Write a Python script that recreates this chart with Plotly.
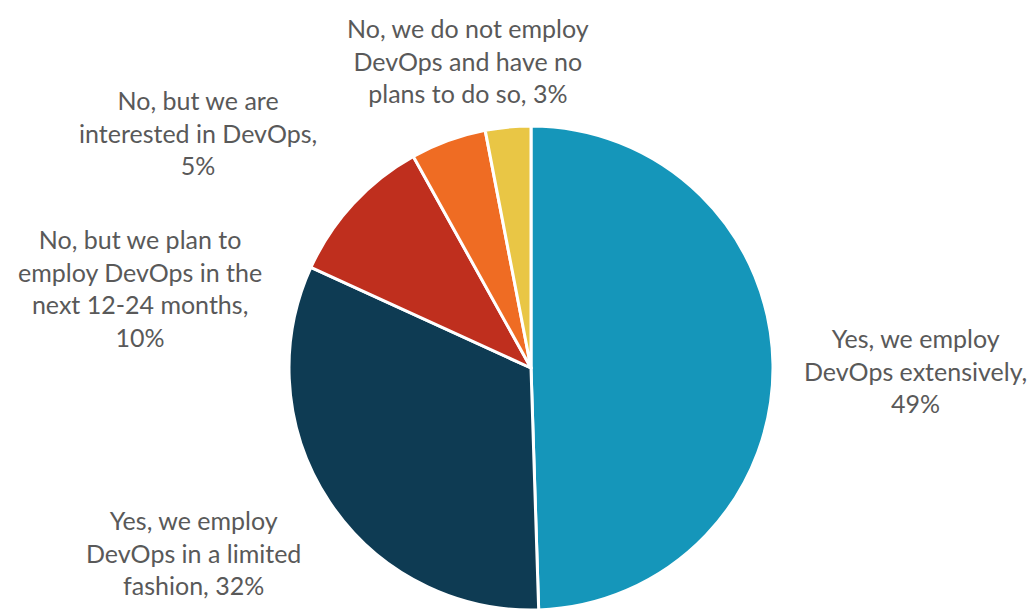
import plotly.graph_objects as go

# Survey responses: does the organisation employ DevOps?
categories = [
    "Yes, we employ DevOps extensively",
    "Yes, we employ DevOps in a limited fashion",
    "No, but we plan to employ DevOps in the next 12-24 months",
    "No, but we are interested in DevOps",
    "No, we do not employ DevOps and have no plans to do so",
]
shares = [49, 32, 10, 5, 3]
colors = ["#1596BA", "#0E3B53", "#BF2F1E", "#EF6C23", "#E9C645"]

# Wrapped label text (without the value, appended below)
label_lines = [
    "Yes, we employ<br>DevOps extensively,<br>",
    "Yes, we employ<br>DevOps in a limited<br>fashion, ",
    "No, but we plan to<br>employ DevOps in the<br>next 12-24 months,<br>",
    "No, but we are<br>interested in DevOps,<br>",
    "No, we do not employ<br>DevOps and have no<br>plans to do so, ",
]

W, H = 1036, 610

fig = go.Figure(
    go.Pie(
        labels=categories,
        values=shares,
        sort=False,
        direction="clockwise",
        rotation=0,
        marker=dict(colors=colors, line=dict(color="white", width=3)),
        textinfo="none",
        hoverinfo="label+percent",
        showlegend=False,
        domain=dict(x=[(531 - 250) / W, (531 + 250) / W], y=[0, 484 / H]),
    )
)

# Label anchor points (pixel centres of each text block)
label_pos = [(915, 370), (193, 552), (140, 288), (198, 133), (468, 61)]

for txt, v, (px, py) in zip(label_lines, shares, label_pos):
    fig.add_annotation(
        text=f"{txt}{v}%",
        x=px / W,
        y=1 - py / H,
        xref="paper",
        yref="paper",
        xanchor="center",
        yanchor="middle",
        showarrow=False,
        align="center",
        font=dict(family="Lato", size=25, color="#595959"),
    )

fig.update_layout(
    width=W,
    height=H,
    margin=dict(l=0, r=0, t=0, b=0),
    paper_bgcolor="white",
    plot_bgcolor="white",
)

fig.write_html("out.html")
